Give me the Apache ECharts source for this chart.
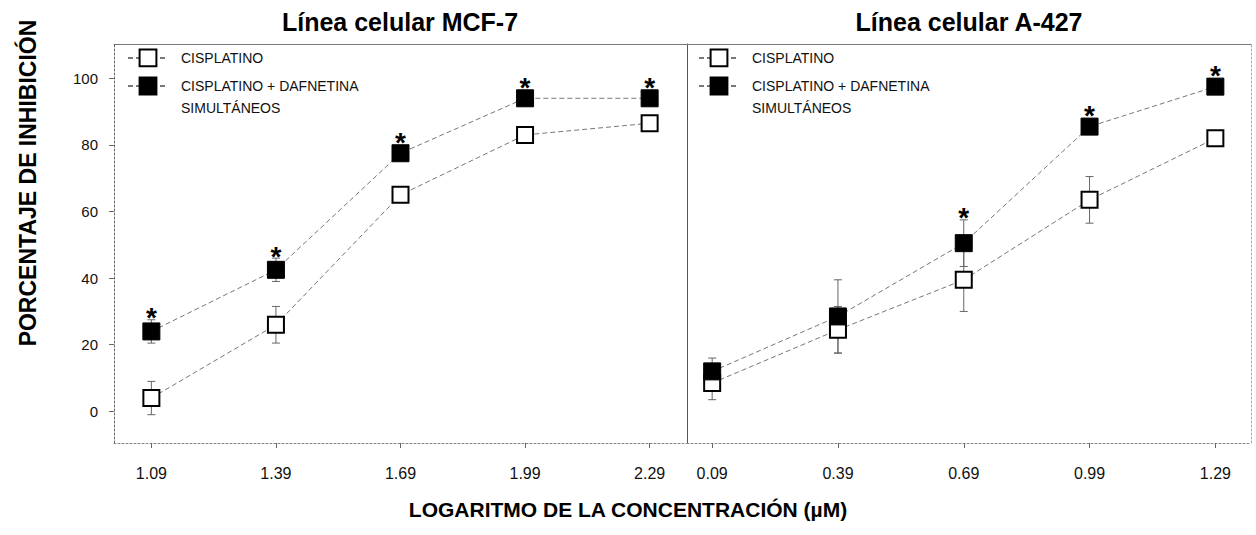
<!DOCTYPE html>
<html><head><meta charset="utf-8">
<script src="https://cdn.jsdelivr.net/npm/echarts@6/dist/echarts.min.js"></script>
<style>html,body{margin:0;padding:0;background:#fff}#c{width:1256px;height:535px}</style>
</head><body><div id="c"></div>
<script>
// ---- data ----
const xLeft = [1.09, 1.39, 1.69, 1.99, 2.29];
const leftCis = [4, 26, 65, 83, 86.5];
const leftCisErr = [5, 5.5, 1.5, 1, 1];
const leftComb = [24, 42.5, 77.5, 94, 94];
const leftCombErr = [3.5, 3.5, 1.5, 1, 1];
const leftStars = [1, 1, 1, 1, 1];

const xRight = [0.09, 0.39, 0.69, 0.99, 1.29];
const rightCis = [8.5, 24.5, 39.5, 63.5, 82];
const rightCisErr = [5, 7, 9.5, 7, 1];
const rightComb = [12, 28.5, 50.5, 85.5, 97.5];
const rightCombErr = [4, 11, 7, 1.5, 1.5];
const rightStars = [0, 0, 1, 1, 1];

const yTicks = [0, 20, 40, 60, 80, 100];
const NAME_CIS = 'CISPLATINO';
const NAME_COMB = 'CISPLATINO + DAFNETINA SIMULTÁNEOS';

// ---- helpers ----
const pairs = (xs, ys) => xs.map((x, i) => [x, ys[i]]);
const triples = (xs, ys, es) => xs.map((x, i) => [x, ys[i], es[i]]);
const starData = (xs, ys, es, flags) => xs.map((x, i) => [x, ys[i], es[i]]).filter((d, i) => flags[i]);

const FONT = 'Arial, "Liberation Sans", sans-serif';
const lineStyle = { color: '#777', width: 1, type: [5, 3] };

function errRender(params, api) {
  const x = api.value(0), y = api.value(1), e = api.value(2);
  const t = api.coord([x, y + e]), b = api.coord([x, y - e]);
  const st = { stroke: '#666', lineWidth: 1 };
  const cap = 4;
  return { type: 'group', children: [
    { type: 'line', shape: { x1: t[0], y1: t[1], x2: b[0], y2: b[1] }, style: st },
    { type: 'line', shape: { x1: t[0] - cap, y1: t[1], x2: t[0] + cap, y2: t[1] }, style: st },
    { type: 'line', shape: { x1: b[0] - cap, y1: b[1], x2: b[0] + cap, y2: b[1] }, style: st }
  ]};
}
function starRender(params, api) {
  const x = api.value(0), y = api.value(1), e = api.value(2);
  const c = api.coord([x, y]), t = api.coord([x, y + e]);
  const top = Math.min(t[1], c[1] - 9);
  return { type: 'text', x: c[0], y: top + 12,
    style: { text: '*', fill: '#000', font: 'bold 28px ' + FONT, align: 'center', verticalAlign: 'bottom' } };
}

function panelSeries(gi, xs, cis, cisE, comb, combE, stars) {
  return [
    { type: 'custom', name: 'err', xAxisIndex: gi * 2, yAxisIndex: gi * 2, renderItem: errRender,
      data: triples(xs, cis, cisE), z: 1, silent: true },
    { type: 'custom', name: 'err', xAxisIndex: gi * 2, yAxisIndex: gi * 2, renderItem: errRender,
      data: triples(xs, comb, combE), z: 1, silent: true },
    { type: 'line', name: NAME_CIS, xAxisIndex: gi * 2, yAxisIndex: gi * 2, data: pairs(xs, cis),
      symbol: 'rect', symbolSize: 16, showAllSymbol: true, lineStyle: lineStyle,
      itemStyle: { color: '#fff', borderColor: '#000', borderWidth: 2 }, z: 3, animation: false },
    { type: 'line', name: NAME_COMB, xAxisIndex: gi * 2, yAxisIndex: gi * 2, data: pairs(xs, comb),
      symbol: 'rect', symbolSize: 17, showAllSymbol: true, lineStyle: lineStyle,
      itemStyle: { color: '#000', borderColor: '#000', borderWidth: 1 }, z: 4, animation: false },
    { type: 'custom', name: 'star', xAxisIndex: gi * 2, yAxisIndex: gi * 2, renderItem: starRender,
      data: starData(xs, comb, combE, stars), z: 5, silent: true }
  ];
}

const grids = [
  { left: 114, top: 44, width: 573, height: 399 },
  { left: 687, top: 44, width: 564, height: 399 }
];
const xRanges = [[1.0, 2.38], [0.03, 1.375]];
const yMin = -9.5, yMax = 110.3;

const xAxes = [], yAxes = [];
[xLeft, xRight].forEach((xs, gi) => {
  xAxes.push({ type: 'value', gridIndex: gi, position: 'bottom', min: xRanges[gi][0], max: xRanges[gi][1],
    splitLine: { show: false },
    axisLine: { show: true, onZero: false, lineStyle: { color: '#888', type: [2, 2], width: 1 } },
    axisTick: { show: true, customValues: xs, length: 5, lineStyle: { color: '#666' } },
    axisLabel: { customValues: xs, formatter: v => v.toFixed(2), color: '#111', fontSize: 16, fontFamily: FONT, margin: 22 } });
  xAxes.push({ type: 'value', gridIndex: gi, position: 'top', min: xRanges[gi][0], max: xRanges[gi][1],
    splitLine: { show: false }, axisLabel: { show: false }, axisTick: { show: false },
    axisLine: { show: true, onZero: false, lineStyle: { color: '#777', width: 1 } } });
});
yAxes.push({ type: 'value', gridIndex: 0, min: yMin, max: yMax, position: 'left',
  splitLine: { show: false },
  axisLine: { show: true, onZero: false, lineStyle: { color: '#666', type: [2, 2], width: 1 } },
  axisTick: { show: true, customValues: yTicks, length: 5, lineStyle: { color: '#666' } },
  axisLabel: { customValues: yTicks, color: '#111', fontSize: 15, fontFamily: FONT, margin: 16 } });
yAxes.push({ type: 'value', gridIndex: 0, min: yMin, max: yMax, position: 'right', show: false });
yAxes.push({ type: 'value', gridIndex: 1, min: yMin, max: yMax, position: 'left',
  splitLine: { show: false }, axisTick: { show: false }, axisLabel: { show: false },
  axisLine: { show: true, onZero: false, lineStyle: { color: '#555', width: 1 } } });
yAxes.push({ type: 'value', gridIndex: 1, min: yMin, max: yMax, position: 'right',
  splitLine: { show: false }, axisTick: { show: false }, axisLabel: { show: false },
  axisLine: { show: true, onZero: false, lineStyle: { color: '#aaa', type: [2, 2], width: 1 } } });

const legendBase = {
  orient: 'vertical', padding: 0, itemWidth: 40, itemHeight: 21, selectedMode: false,
  textStyle: { color: '#111', fontSize: 14, fontFamily: FONT, padding: [0, 0, 0, 8] }
};
const legendComb = Object.assign({}, legendBase, {
  data: [NAME_COMB],
  formatter: n => ' \n' + n.replace(' SIMULTÁNEOS', '\nSIMULTÁNEOS'),
  textStyle: { color: '#111', fontSize: 14, fontFamily: FONT, lineHeight: 22, padding: [0, 0, 0, 8] }
});

const option = {
  animation: false,
  backgroundColor: '#fff',
  grid: grids,
  xAxis: xAxes,
  yAxis: yAxes,
  legend: [
    Object.assign({}, legendBase, { data: [NAME_CIS], left: 127, top: 48.5 }),
    Object.assign({}, legendComb, { left: 127, top: 53 }),
    Object.assign({}, legendBase, { data: [NAME_CIS], left: 698, top: 48.5 }),
    Object.assign({}, legendComb, { left: 698, top: 53 })
  ],
  graphic: [
    { type: 'text', x: 400, y: 22, style: { text: 'Línea celular MCF-7', font: 'bold 25px ' + FONT, fill: '#000', align: 'center', verticalAlign: 'middle' } },
    { type: 'text', x: 969, y: 22, style: { text: 'Línea celular A-427', font: 'bold 25px ' + FONT, fill: '#000', align: 'center', verticalAlign: 'middle' } },
    { type: 'text', x: 628, y: 509, style: { text: 'LOGARITMO DE LA CONCENTRACIÓN (µM)', font: 'bold 21px ' + FONT, fill: '#000', align: 'center', verticalAlign: 'middle' } },
    { type: 'text', x: 28, y: 183, rotation: Math.PI / 2, style: { text: 'PORCENTAJE DE INHIBICIÓN', font: 'bold 23px ' + FONT, fill: '#000', align: 'center', verticalAlign: 'middle' } }
  ],
  series: [].concat(
    panelSeries(0, xLeft, leftCis, leftCisErr, leftComb, leftCombErr, leftStars),
    panelSeries(1, xRight, rightCis, rightCisErr, rightComb, rightCombErr, rightStars)
  )
};
const chart = echarts.init(document.getElementById('c'), null, { renderer: 'svg' });
chart.setOption(option);
</script></body></html>
